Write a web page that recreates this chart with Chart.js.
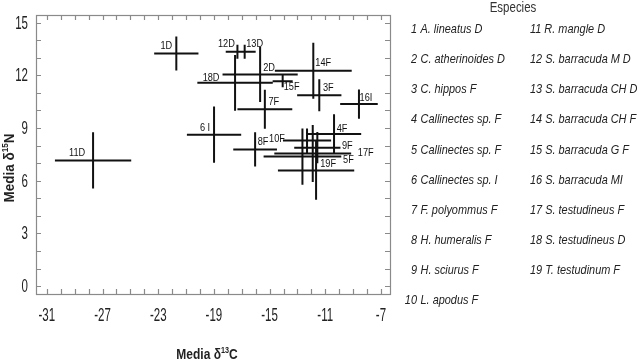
<!DOCTYPE html>
<html>
<head>
<meta charset="utf-8">
<script src="https://cdn.jsdelivr.net/npm/chart.js@4.4.1/dist/chart.umd.min.js"></script>
<style>
html,body{margin:0;padding:0;background:#fff;}
#wrap{width:639px;height:362px;}
</style>
</head>
<body>
<div id="wrap"><canvas id="c" width="639" height="362"></canvas></div>
<script>
// ---- data ----
const pointLabels = ['1D','2D','3F','4F','5F','6 I','7F','8F','9F','10F','11D','12D','13D','14F','15F','16I','17F','18D','19F'];
const meanC = [-21.70,-15.68,-11.43,-10.37,-12.64,-18.99,-15.34,-16.04,-11.57,-12.31,-27.68,-17.31,-16.79,-11.86,-14.06,-8.58,-11.90,-17.48,-11.66];
const meanN = [13.24,12.05,10.86,8.66,7.37,8.62,10.07,7.78,7.88,8.29,7.15,13.34,13.34,12.26,11.66,10.36,7.55,11.57,6.58];
const sdC = [1.59,2.70,1.59,1.95,2.79,1.95,1.97,1.57,1.66,1.73,2.74,0.84,0.79,2.76,0.72,1.35,2.76,2.71,2.74];
const sdN = [0.97,1.57,0.91,1.12,1.60,1.60,1.11,0.97,0.89,0.68,1.60,0.40,0.40,1.59,0.34,0.83,1.62,1.59,1.66];
const species = ['A. lineatus D','C. atherinoides D','C. hippos F','Callinectes sp. F','Callinectes sp. F','Callinectes sp. I','F. polyommus F','H. humeralis F','H. sciurus F','L. apodus F','R. mangle D','S. barracuda M D','S. barracuda CH D','S. barracuda CH F','S. barracuda G F','S. barracuda MI','S. testudineus F','S. testudineus D','T. testudinum F'];
const xTicks = [-31,-27,-23,-19,-15,-11,-7];
const yTicks = [0,3,6,9,12,15];
const legendTitle = 'Especies';

// ---- layout / style (not data) ----
const labelOffsets = [[-10,-7],[9,-6],[9,-7],[8,-5],[46,4],[-9,-6],[9,-7],[8,-7],[30,-1],[-30,-1],[-16,-7],[-11,-7],[10,-7],[10,-7],[9,6],[7,-6],[53,0],[-24,-5],[12,-6]];
const FONT = "'Liberation Sans', Arial, sans-serif";

function ctext(ctx, s, x, y, font, sx, align, base, color){
  ctx.save();
  ctx.font = font; ctx.textAlign = align; ctx.textBaseline = base; ctx.fillStyle = color || '#222';
  ctx.translate(x, y); ctx.scale(sx, 1); ctx.fillText(s, 0, 0);
  ctx.restore();
}
function supTitle(ctx, base, sup, tail, size, weight, sx){
  ctx.save();
  ctx.scale(sx,1);
  const f1 = weight + ' ' + size + 'px ' + FONT;
  const f2 = weight + ' ' + Math.round(size*0.62) + 'px ' + FONT;
  ctx.font = f1; const w1 = ctx.measureText(base).width; const w3 = ctx.measureText(tail).width;
  ctx.font = f2; const w2 = ctx.measureText(sup).width;
  let x = -(w1+w2+w3)/2;
  ctx.fillStyle = '#222'; ctx.textBaseline = 'middle'; ctx.textAlign = 'left';
  ctx.font = f1; ctx.fillText(base, x, 0); x += w1;
  ctx.font = f2; ctx.fillText(sup, x, -size*0.3); x += w2;
  ctx.font = f1; ctx.fillText(tail, x, 0);
  ctx.restore();
}

const drawPlugin = {
  id: 'drawPlugin',
  afterDatasetsDraw(chart){
    const ctx = chart.ctx, a = chart.chartArea;
    const xs = chart.scales.x, ys = chart.scales.y;
    // frame
    ctx.save();
    ctx.strokeStyle = '#8a8a8a'; ctx.lineWidth = 1.2;
    ctx.strokeRect(a.left+0.5, a.top+0.5, a.right-a.left, a.bottom-a.top);
    ctx.beginPath();
    for(let v = Math.ceil(xs.min); v <= Math.floor(xs.max); v++){
      const px = Math.round(xs.getPixelForValue(v))+0.5;
      ctx.moveTo(px, a.bottom); ctx.lineTo(px, a.bottom-5);
      ctx.moveTo(px, a.top); ctx.lineTo(px, a.top+5);
    }
    for(let v = Math.ceil(ys.min); v <= Math.floor(ys.max); v++){
      const py = Math.round(ys.getPixelForValue(v))+0.5;
      ctx.moveTo(a.left, py); ctx.lineTo(a.left+5, py);
      ctx.moveTo(a.right, py); ctx.lineTo(a.right-5, py);
    }
    ctx.stroke();
    ctx.restore();

    // error crosses
    ctx.save();
    ctx.strokeStyle = '#111'; ctx.lineWidth = 2;
    ctx.beginPath();
    for(let i=0;i<meanC.length;i++){
      const cx = xs.getPixelForValue(meanC[i]), cy = ys.getPixelForValue(meanN[i]);
      ctx.moveTo(xs.getPixelForValue(meanC[i]-sdC[i]), cy);
      ctx.lineTo(xs.getPixelForValue(meanC[i]+sdC[i]), cy);
      ctx.moveTo(cx, ys.getPixelForValue(meanN[i]-sdN[i]));
      ctx.lineTo(cx, ys.getPixelForValue(meanN[i]+sdN[i]));
    }
    ctx.stroke();
    ctx.restore();

    // point labels
    for(let i=0;i<meanC.length;i++){
      const cx = xs.getPixelForValue(meanC[i]), cy = ys.getPixelForValue(meanN[i]);
      ctext(ctx, pointLabels[i], cx+labelOffsets[i][0], cy+labelOffsets[i][1], '10px '+FONT, 0.92, 'center', 'middle', '#111');
    }

    // tick labels
    xTicks.forEach(v => ctext(ctx, String(v), xs.getPixelForValue(v), 316, '18px '+FONT, 0.64, 'center', 'middle', '#222'));
    yTicks.forEach(v => ctext(ctx, String(v), 28, ys.getPixelForValue(v)+1, '18px '+FONT, 0.64, 'right', 'middle', '#222'));

    // axis titles
    ctx.save(); ctx.translate(207, 355); supTitle(ctx, 'Media δ', '13', 'C', 15, 'bold', 0.8); ctx.restore();
    ctx.save(); ctx.translate(10, 168); ctx.rotate(-Math.PI/2); supTitle(ctx, 'Media δ', '15', 'N', 15, 'bold', 0.9); ctx.restore();

    // legend
    ctext(ctx, legendTitle, 513, 8, '14px '+FONT, 0.82, 'center', 'middle', '#333');
    const lf = 'italic 13px ' + FONT, lsx = 0.84;
    for(let i=0;i<species.length;i++){
      const y = (i < 10 ? 29.5 + i*30.1 : 29.5 + (i-10)*30.1);
      if(i < 10){
        ctext(ctx, String(i+1), 417, y, lf, lsx, 'right', 'middle', '#222');
        ctext(ctx, species[i], 420.5, y, lf, lsx, 'left', 'middle', '#222');
      } else {
        ctext(ctx, (i+1) + ' ' + species[i], 530, y, lf, lsx, 'left', 'middle', '#222');
      }
    }
  }
};

new Chart(document.getElementById('c'), {
  type: 'scatter',
  data: {
    datasets: [{
      label: 'Especies',
      data: meanC.map((x,i)=>({x:x, y:meanN[i]})),
      pointRadius: 0,
      pointHoverRadius: 0,
      showLine: false
    }]
  },
  options: {
    responsive: false,
    animation: false,
    devicePixelRatio: 1,
    layout: { padding: { left: 36, top: 15, right: 249, bottom: 68 } },
    plugins: { legend: { display: false }, tooltip: { enabled: false } },
    scales: {
      x: { type: 'linear', min: -31.78, max: -6.35, display: false,
           afterBuildTicks: s => { s.ticks = xTicks.map(v => ({value: v})); } },
      y: { type: 'linear', min: -0.45, max: 15.43, display: false,
           afterBuildTicks: s => { s.ticks = yTicks.map(v => ({value: v})); } }
    }
  },
  plugins: [drawPlugin]
});
</script>
</body>
</html>
